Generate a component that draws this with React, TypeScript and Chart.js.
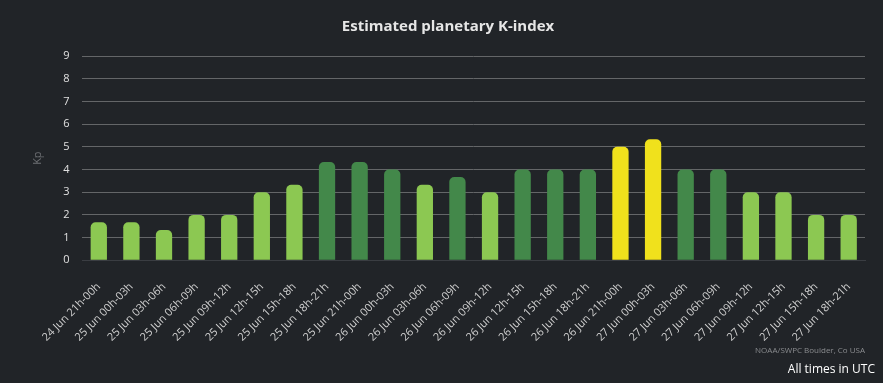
import React, { useEffect, useRef } from "react";
import { Chart, registerables } from "chart.js";

Chart.register(...registerables);

const categories = [
  "24 Jun 21h-00h", "25 Jun 00h-03h", "25 Jun 03h-06h", "25 Jun 06h-09h",
  "25 Jun 09h-12h", "25 Jun 12h-15h", "25 Jun 15h-18h", "25 Jun 18h-21h",
  "25 Jun 21h-00h", "26 Jun 00h-03h", "26 Jun 03h-06h", "26 Jun 06h-09h",
  "26 Jun 09h-12h", "26 Jun 12h-15h", "26 Jun 15h-18h", "26 Jun 18h-21h",
  "26 Jun 21h-00h", "27 Jun 00h-03h", "27 Jun 03h-06h", "27 Jun 06h-09h",
  "27 Jun 09h-12h", "27 Jun 12h-15h", "27 Jun 15h-18h", "27 Jun 18h-21h",
];

const kpValues = [
  1.67, 1.67, 1.33, 2, 2, 3, 3.33, 4.33,
  4.33, 4, 3.33, 3.67, 3, 4, 4, 4,
  5, 5.33, 4, 4, 3, 3, 2, 2,
];

const LIGHT = "#8cc852";
const DARK = "#43884a";
const YELLOW = "#f0e11c";

const barColors = [
  LIGHT, LIGHT, LIGHT, LIGHT, LIGHT, LIGHT, LIGHT, DARK,
  DARK, DARK, LIGHT, DARK, LIGHT, DARK, DARK, DARK,
  YELLOW, YELLOW, DARK, DARK, LIGHT, LIGHT, LIGHT, LIGHT,
];

const yTicks = [0, 1, 2, 3, 4, 5, 6, 7, 8, 9];

const BG = "#212428";
const FONT = "'Open Sans', 'DejaVu Sans', sans-serif";

export default function App() {
  const ref = useRef<HTMLCanvasElement>(null);

  useEffect(() => {
    document.body.style.margin = "0";
    document.body.style.background = BG;
    const ctx = ref.current!;
    const chart = new Chart(ctx, {
      type: "bar",
      data: {
        labels: categories,
        datasets: [
          {
            label: "Kp",
            data: kpValues,
            backgroundColor: barColors,
            borderRadius: { topLeft: 5, topRight: 5, bottomLeft: 0, bottomRight: 0 },
            borderSkipped: false,
            barPercentage: 0.5,
            categoryPercentage: 1,
          },
        ],
      },
      options: {
        animation: false,
        responsive: false,
        maintainAspectRatio: false,
        layout: { padding: { left: 31, right: 18, top: 18, bottom: 27 } },
        plugins: {
          legend: { display: false },
          tooltip: { enabled: false },
          title: {
            display: true,
            text: "Estimated planetary K-index",
            color: "#e6e6e6",
            font: { family: FONT, size: 15, weight: "bold" },
            padding: { top: 0, bottom: 20 },
          },
        },
        scales: {
          x: {
            grid: { display: false },
            border: { color: "#3a3d42" },
            ticks: {
              color: "#d0d0d0",
              font: { family: FONT, size: 11 },
              maxRotation: 45,
              minRotation: 45,
              autoSkip: false,
              padding: 12,
            },
          },
          y: {
            min: 0,
            max: 9,
            afterBuildTicks: (axis: any) => {
              axis.ticks = yTicks.map((v) => ({ value: v }));
            },
            grid: {
              color: (c: any) => (c.tick && c.tick.value === 0 ? "#3a3d42" : "#646668"),
              drawTicks: false,
            },
            border: { display: false },
            ticks: {
              color: "#e0e0e0",
              font: { family: FONT, size: 11 },
              padding: 13,
            },
            title: {
              display: true,
              text: "Kp",
              color: "#6e7074",
              font: { family: FONT, size: 11 },
              padding: { top: 0, bottom: 6 },
            },
          },
        },
      },
    });
    return () => chart.destroy();
  }, []);

  return (
    <div style={{ position: "fixed", left: 0, top: 0, width: 883, height: 383, background: BG, overflow: "hidden" }}>
      <canvas ref={ref} width={883} height={383} style={{ width: 883, height: 383, display: "block" }} />
      <div
        style={{
          position: "absolute",
          right: 18,
          top: 344,
          fontFamily: FONT,
          fontSize: 8,
          color: "#8a8c8f",
        }}
      >
        NOAA/SWPC Boulder, Co USA
      </div>
      <div
        style={{
          position: "absolute",
          right: 8,
          top: 360,
          fontFamily: FONT,
          fontSize: 12,
          color: "#ffffff",
        }}
      >
        All times in UTC
      </div>
    </div>
  );
}
